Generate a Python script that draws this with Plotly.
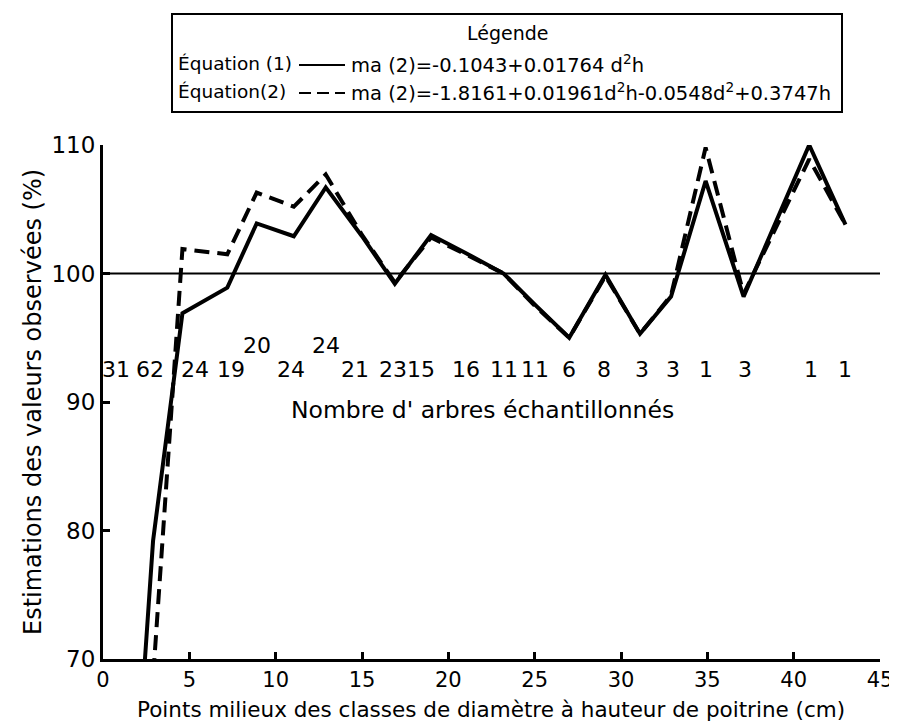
import plotly.graph_objects as go

# ---- data ----
x_mid = [1, 2.9, 4.6, 7.2, 8.9, 11.05, 12.9, 15, 16.9, 19, 21, 23.2, 25, 27, 29.1, 31.1, 32.9, 34.9, 37.1, 40.9, 43]
eq1 = [42, 79.2, 96.9, 98.9, 103.9, 102.9, 106.7, 102.9, 99.2, 103.0, 101.6, 100.0, 97.6, 95.0, 99.9, 95.3, 98.2, 107.2, 98.2, 110.0, 103.8]
eq2 = [35, 68.5, 101.9, 101.5, 106.3, 105.2, 107.7, 103.0, 99.3, 102.8, 101.5, 100.0, 97.5, 95.0, 99.8, 95.3, 98.3, 109.8, 98.4, 108.9, 103.8]

count_x = [0.75, 2.7, 5.3, 7.4, 8.9, 10.9, 12.9, 14.6, 16.8, 18.4, 21.0, 23.2, 25.0, 27.0, 29.0, 31.2, 33.0, 34.9, 37.2, 41.0, 43.0]
counts = ["31", "62", "24", "19", "20", "24", "24", "21", "23", "15", "16", "11", "11", "6", "8", "3", "3", "1", "3", "1", "1"]
raised = [4, 6]  # indices of labels drawn on the upper row

x_ticks = [0, 5, 10, 15, 20, 25, 30, 35, 40, 45]
y_ticks = [70, 80, 90, 100, 110]

FONT = "DejaVu Sans"
W, H = 897, 721
L, R, T, B = 95, 25, 137, 70
PW, PH = W - L - R, H - T - B

def px(xp):
    return (xp - L) / PW

def py(yp):
    return (H - B - yp) / PH

fig = go.Figure()
fig.add_trace(go.Scatter(x=x_mid, y=eq1, mode="lines",
                         line=dict(color="black", width=4), showlegend=False))
fig.add_trace(go.Scatter(x=x_mid, y=eq2, mode="lines",
                         line=dict(color="black", width=4, dash="15px,8px"), showlegend=False))
fig.add_hline(y=100, line=dict(color="black", width=2))

for i, (cx, c) in enumerate(zip(count_x, counts)):
    fig.add_annotation(x=cx, y=94.4 if i in raised else 92.5, text=c, showarrow=False,
                       font=dict(family=FONT, size=22, color="black"))
fig.add_annotation(x=22, y=89.4, text="Nombre d' arbres échantillonnés", showarrow=False,
                   font=dict(family=FONT, size=23.5, color="black"))

# axis titles
fig.add_annotation(xref="paper", yref="paper", x=px(483), y=py(701), text="Points milieux des classes de diamètre à hauteur de poitrine (cm)",
                   showarrow=False, xanchor="center", yanchor="middle", borderpad=0,
                   font=dict(family=FONT, size=21.5, color="black"))
fig.add_annotation(xref="paper", yref="paper", x=px(25), y=py(394), text="Estimations des valeurs observées (%)",
                   showarrow=False, textangle=-90, xanchor="center", yanchor="middle",
                   font=dict(family=FONT, size=24, color="black"))

# legend box
bx0, bx1, by0, by1 = 164, 834, 6, 104
fig.add_shape(type="rect", xref="paper", yref="paper", x0=px(bx0), x1=px(bx1), y0=py(by1), y1=py(by0),
              line=dict(color="black", width=2))
fig.add_annotation(xref="paper", yref="paper", x=px(499), y=py(25), text="Légende", showarrow=False,
                   xanchor="center", yanchor="middle", font=dict(family=FONT, size=19, color="black"))
rows = [(56, "Équation (1)", "ma (2)=-0.1043+0.01764 d<sup>2</sup>h", "solid"),
        (84, "Équation(2)", "ma (2)=-1.8161+0.01961d<sup>2</sup>h-0.0548d<sup>2</sup>+0.3747h", "dash")]
for yy, lab, eq, ds in rows:
    fig.add_annotation(xref="paper", yref="paper", x=px(168), y=py(yy), text=lab, showarrow=False,
                       xanchor="left", yanchor="middle", font=dict(family=FONT, size=18.5, color="black"))
    fig.add_shape(type="line", xref="paper", yref="paper", x0=px(291), x1=px(337), y0=py(yy + 1), y1=py(yy + 1),
                  line=dict(color="black", width=2, dash="12px,6px" if ds == "dash" else "solid"))
    fig.add_annotation(xref="paper", yref="paper", x=px(341), y=py(yy), text=eq, showarrow=False,
                       xanchor="left", yanchor="middle", font=dict(family=FONT, size=19.5, color="black"))

axis_common = dict(showline=True, linecolor="black", linewidth=3, ticks="inside", ticklen=7,
                   tickwidth=3, tickcolor="black", showgrid=False, zeroline=False, mirror=False)
fig.update_xaxes(range=[0, 45], tickvals=x_ticks, ticktext=[str(v) for v in x_ticks],
                 tickfont=dict(family=FONT, size=21, color="black"), **axis_common)
fig.update_yaxes(range=[70, 110], tickvals=y_ticks, ticktext=[str(v) for v in y_ticks],
                 tickfont=dict(family=FONT, size=23, color="black"), **axis_common)

fig.update_layout(width=W, height=H, margin=dict(l=L, r=R, t=T, b=B),
                  paper_bgcolor="white", plot_bgcolor="white", showlegend=False)
fig.write_html("out.html")
